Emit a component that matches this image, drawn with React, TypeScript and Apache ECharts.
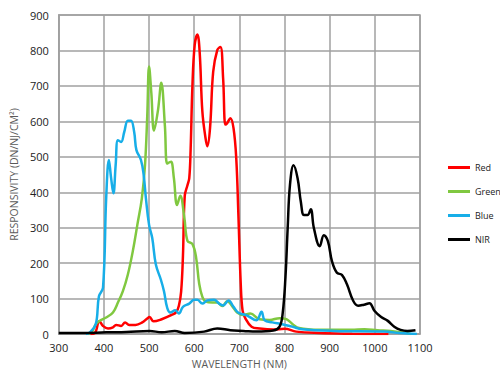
import React, { useEffect, useRef } from "react";
import * as echarts from "echarts";

const seriesNames = ["Red", "Green", "Blue", "NIR"];
const seriesColors = ["#ff0000", "#80c840", "#17aee8", "#000000"];

const redData: [number, number][] = [
  [370, 0], [380, 3], [390, 36], [398, 23], [409, 16], [420, 19], [427, 26], [438, 23], [447, 33], [456, 26],
  [470, 26], [485, 33], [496, 44], [501, 48], [510, 36], [528, 42], [550, 54], [560, 62], [566, 80], [571, 120],
  [575, 220], [579, 390], [585, 420], [589, 440], [592, 520], [596, 700], [601, 815], [607, 845], [612, 796],
  [618, 628], [625, 553], [629, 530], [635, 581], [642, 740], [651, 801], [658, 810], [664, 721], [669, 591],
  [673, 595], [680, 609], [687, 581], [693, 497], [698, 329], [703, 142], [707, 67], [713, 45], [727, 21],
  [745, 16], [775, 13], [800, 15], [826, 7], [876, 3], [950, 1], [1030, 0],
];

const greenData: [number, number][] = [
  [365, 0], [375, 10], [382, 28], [390, 37], [405, 47], [420, 61], [431, 89], [442, 121], [453, 168], [464, 234],
  [474, 308], [484, 383], [491, 477], [496, 617], [500, 755], [505, 680], [511, 574], [520, 634], [527, 709],
  [535, 588], [540, 481], [546, 485], [549, 486], [555, 439], [562, 364], [569, 390], [578, 329], [585, 263],
  [596, 254], [604, 217], [611, 142], [618, 105], [625, 92], [640, 89], [651, 89], [662, 79], [673, 93],
  [684, 79], [695, 61], [709, 54], [724, 58], [745, 42], [767, 40], [789, 45], [804, 42], [818, 28], [832, 17],
  [876, 12], [948, 12], [977, 14], [1006, 11], [1035, 9], [1071, 3], [1080, 0],
];

const blueData: [number, number][] = [
  [360, 0], [369, 5], [382, 28], [389, 107], [398, 131], [405, 383], [411, 491], [416, 439], [421, 397],
  [426, 477], [431, 547], [438, 542], [445, 570], [453, 602], [460, 602], [467, 570], [472, 519], [482, 491],
  [488, 449], [493, 383], [500, 308], [507, 271], [515, 196], [526, 154], [533, 121], [540, 75], [547, 61],
  [558, 67], [566, 58], [575, 77], [589, 86], [600, 97], [607, 97], [618, 86], [629, 95], [644, 97], [655, 86],
  [664, 81], [676, 95], [687, 77], [698, 60], [716, 53], [738, 39], [749, 63], [756, 39], [773, 33], [795, 28],
  [817, 21], [839, 14], [911, 9], [1020, 7], [1056, 3], [1093, 0],
];

const nirData: [number, number][] = [
  [300, 3], [350, 3], [405, 5], [450, 6], [501, 9], [528, 5], [557, 9], [579, 3], [622, 7], [651, 16],
  [680, 11], [709, 9], [738, 7], [775, 10], [789, 21], [796, 60], [802, 160], [807, 300], [812, 420],
  [820, 476], [829, 439], [836, 374], [843, 336], [851, 336], [858, 352], [865, 299], [878, 248], [887, 279],
  [896, 262], [905, 206], [916, 173], [927, 167], [938, 141], [952, 94], [963, 80], [976, 83], [988, 87],
  [999, 66], [1014, 48], [1028, 38], [1043, 21], [1057, 12], [1072, 9], [1090, 11],
];

const allData = [redData, greenData, blueData, nirData];

const xTicks = { min: 300, max: 1100, interval: 100 };
const yTicks = { min: 0, max: 900, interval: 100 };

export default function App() {
  const ref = useRef<HTMLDivElement>(null);
  useEffect(() => {
    if (!ref.current) return;
    const chart = echarts.init(ref.current, undefined, { renderer: "svg" });
    const font = "'Open Sans', 'DejaVu Sans', sans-serif";
    chart.setOption({
      animation: false,
      backgroundColor: "#ffffff",
      grid: {
        left: 52,
        right: 80,
        top: 15,
        bottom: 37,
        show: true,
        borderColor: "#a0a0a0",
        borderWidth: 1.5,
      },
      legend: {
        orient: "vertical",
        left: 443,
        top: 158,
        itemWidth: 22,
        itemHeight: 3,
        itemGap: 15,
        icon: "rect",
        data: seriesNames,
        textStyle: { fontFamily: font, fontSize: 9, color: "#222" },
      },
      xAxis: {
        type: "value",
        ...xTicks,
        name: "WAVELENGTH (NM)",
        nameLocation: "middle",
        nameGap: 21,
        nameTextStyle: { fontFamily: font, fontSize: 10.5, color: "#595959" },
        axisLine: { show: true, lineStyle: { color: "#a0a0a0", width: 1.5 } },
        axisTick: { show: false },
        axisLabel: { fontFamily: font, fontSize: 11, color: "#222", margin: 8, formatter: (v: number) => String(v) },
        splitLine: { show: true, lineStyle: { color: "#a0a0a0", width: 1.5 } },
      },
      yAxis: {
        type: "value",
        ...yTicks,
        name: "RESPONSIVITY (DN/NJ/CM²)",
        nameLocation: "middle",
        nameGap: 38,
        nameTextStyle: { fontFamily: font, fontSize: 10.5, color: "#595959" },
        axisLine: { show: true, lineStyle: { color: "#a0a0a0", width: 1.5 } },
        axisTick: { show: false },
        axisLabel: { fontFamily: font, fontSize: 11, color: "#222", margin: 10, formatter: (v: number) => String(v) },
        splitLine: { show: true, lineStyle: { color: "#a0a0a0", width: 1.5 } },
      },
      series: seriesNames.map((name, i) => ({
        name,
        type: "line",
        data: allData[i],
        smooth: 0.4,
        symbol: "none",
        color: seriesColors[i],
        lineStyle: { width: 2.5, color: seriesColors[i] },
      })),
    });
    return () => chart.dispose();
  }, []);
  return <div ref={ref} style={{ width: 500, height: 374, position: "absolute", left: 0, top: 0 }} />;
}
